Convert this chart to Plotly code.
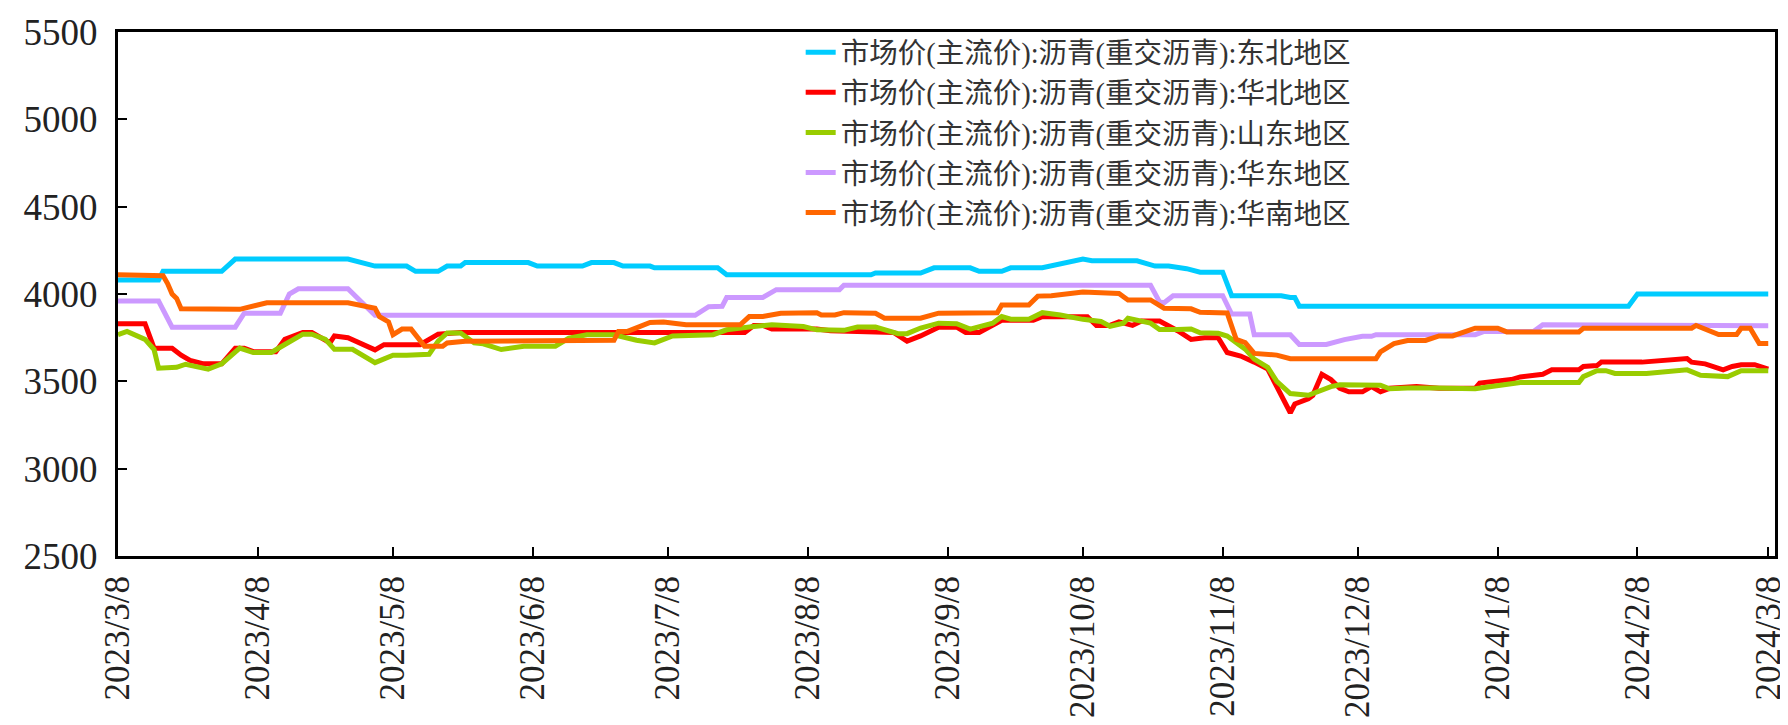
import pandas as pd
import plotly.graph_objects as go

START = "2023-03-08"

names = [
    "市场价(主流价):沥青(重交沥青):东北地区",
    "市场价(主流价):沥青(重交沥青):华北地区",
    "市场价(主流价):沥青(重交沥青):山东地区",
    "市场价(主流价):沥青(重交沥青):华东地区",
    "市场价(主流价):沥青(重交沥青):华南地区",
]
colors = ["#00CCFF", "#FF0000", "#99CC00", "#CC99FF", "#FF6600"]

# day offsets from START and values
db_days = [0, 9, 10, 23, 26, 51, 57, 64, 66, 71, 73, 76, 77, 91, 93, 103, 105, 110, 112, 118, 119, 133, 135, 167, 168, 178, 181, 189, 191, 196, 198, 205, 214, 216, 226, 230, 233, 237, 240, 245, 247, 258, 260, 261, 262, 335, 337, 366]
db_vals = [4080, 4080, 4130, 4130, 4200, 4200, 4160, 4160, 4130, 4130, 4160, 4160, 4180, 4180, 4160, 4160, 4180, 4180, 4160, 4160, 4150, 4150, 4110, 4110, 4120, 4120, 4150, 4150, 4130, 4130, 4150, 4150, 4200, 4190, 4190, 4160, 4160, 4145, 4125, 4125, 3990, 3990, 3980, 3980, 3930, 3930, 4000, 4000]

hb_days = [0, 6, 8, 12, 14, 16, 19, 23, 26, 28, 30, 35, 37, 41, 43, 45, 47, 48, 51, 57, 59, 67, 71, 76, 139, 141, 143, 145, 155, 158, 168, 172, 175, 178, 182, 186, 188, 191, 196, 203, 205, 215, 217, 220, 222, 225, 227, 231, 235, 238, 241, 244, 246, 249, 252, 255, 257, 260, 261, 264, 265, 267, 269, 271, 273, 276, 278, 280, 282, 288, 293, 301, 302, 307, 309, 311, 316, 318, 324, 325, 328, 329, 338, 348, 349, 352, 354, 356, 358, 360, 363, 366]
hb_vals = [3830, 3830, 3690, 3690, 3650, 3620, 3600, 3600, 3690, 3690, 3670, 3670, 3740, 3780, 3780, 3750, 3720, 3760, 3750, 3680, 3710, 3710, 3770, 3780, 3780, 3820, 3820, 3800, 3800, 3790, 3785, 3780, 3730, 3760, 3810, 3810, 3780, 3780, 3850, 3850, 3870, 3870, 3820, 3820, 3840, 3820, 3845, 3845, 3790, 3740, 3750, 3750, 3665, 3645, 3610, 3570, 3470, 3320, 3370, 3400, 3420, 3540, 3510, 3460, 3440, 3440, 3470, 3440, 3460, 3470, 3460, 3460, 3490, 3500, 3510, 3525, 3540, 3566, 3566, 3585, 3590, 3610, 3610, 3630, 3610, 3600, 3580, 3566, 3585, 3595, 3595, 3570]

sd_days = [0, 2, 6, 8, 9, 13, 15, 20, 23, 27, 30, 34, 37, 41, 43, 46, 48, 52, 57, 59, 61, 64, 69, 71, 73, 76, 79, 81, 85, 90, 97, 100, 104, 110, 115, 119, 123, 132, 135, 141, 145, 152, 155, 161, 164, 168, 171, 173, 175, 178, 182, 186, 189, 194, 196, 198, 202, 205, 209, 214, 218, 220, 223, 224, 229, 231, 235, 238, 240, 244, 246, 248, 250, 252, 255, 257, 260, 264, 266, 269, 271, 280, 282, 286, 292, 301, 303, 310, 311, 324, 325, 328, 330, 332, 339, 348, 351, 357, 360, 366]
sd_vals = [3767, 3786, 3740, 3682, 3575, 3580, 3598, 3570, 3600, 3690, 3665, 3665, 3711, 3770, 3770, 3740, 3683, 3683, 3607, 3626, 3650, 3650, 3655, 3730, 3777, 3777, 3720, 3715, 3682, 3701, 3701, 3748, 3767, 3767, 3735, 3720, 3760, 3767, 3795, 3814, 3824, 3814, 3795, 3792, 3811, 3811, 3786, 3773, 3773, 3805, 3833, 3830, 3799, 3833, 3871, 3856, 3856, 3893, 3880, 3855, 3843, 3815, 3833, 3861, 3833, 3797, 3797, 3800, 3778, 3775, 3759, 3720, 3684, 3627, 3580, 3500, 3430, 3420, 3440, 3470, 3480, 3478, 3457, 3462, 3462, 3457, 3465, 3488, 3493, 3493, 3527, 3561, 3561, 3545, 3545, 3566, 3535, 3527, 3561, 3561]

hd_days = [0, 9, 12, 26, 28, 36, 38, 40, 51, 54, 57, 128, 131, 134, 135, 143, 146, 160, 161, 229, 231, 232, 234, 245, 247, 251, 252, 260, 262, 268, 272, 276, 278, 279, 301, 303, 314, 316, 356, 357, 366]
hd_vals = [3960, 3960, 3810, 3810, 3890, 3890, 4000, 4030, 4030, 3955, 3878, 3878, 3927, 3930, 3980, 3980, 4025, 4025, 4050, 4050, 3955, 3950, 3990, 3990, 3885, 3885, 3767, 3767, 3711, 3711, 3739, 3758, 3758, 3767, 3767, 3786, 3786, 3824, 3824, 3818, 3818]

hn_days = [0, 9, 10, 11, 12, 13, 14, 27, 30, 33, 51, 54, 57, 58, 60, 61, 63, 65, 68, 72, 73, 77, 110, 111, 113, 118, 121, 126, 138, 140, 143, 147, 155, 156, 159, 161, 168, 170, 178, 182, 195, 196, 202, 204, 207, 214, 222, 224, 229, 232, 238, 240, 246, 248, 250, 252, 257, 260, 279, 280, 283, 286, 290, 293, 296, 301, 306, 308, 324, 325, 349, 350, 352, 355, 359, 360, 362, 364, 366]
hn_vals = [4110, 4110, 4105, 4060, 4000, 3975, 3915, 3912, 3930, 3950, 3950, 3937, 3918, 3870, 3840, 3767, 3799, 3799, 3701, 3701, 3720, 3730, 3735, 3786, 3786, 3837, 3840, 3824, 3824, 3871, 3871, 3890, 3893, 3880, 3880, 3893, 3890, 3861, 3861, 3890, 3893, 3937, 3937, 3988, 3990, 4012, 4003, 3966, 3966, 3919, 3915, 3895, 3891, 3740, 3721, 3660, 3650, 3630, 3630, 3669, 3716, 3734, 3734, 3760, 3760, 3804, 3804, 3783, 3783, 3804, 3804, 3820, 3799, 3768, 3768, 3804, 3804, 3716, 3716]

tick_dates = ["2023-03-08", "2023-04-08", "2023-05-08", "2023-06-08", "2023-07-08", "2023-08-08",
              "2023-09-08", "2023-10-08", "2023-11-08", "2023-12-08", "2024-01-08", "2024-02-08", "2024-03-08"]
tick_labels = ["2023/3/8", "2023/4/8", "2023/5/8", "2023/6/8", "2023/7/8", "2023/8/8",
               "2023/9/8", "2023/10/8", "2023/11/8", "2023/12/8", "2024/1/8", "2024/2/8", "2024/3/8"]

series_days = [db_days, hb_days, sd_days, hd_days, hn_days]
series_vals = [db_vals, hb_vals, sd_vals, hd_vals, hn_vals]

start = pd.Timestamp(START)
fig = go.Figure()
for name, color, days, vals in zip(names, colors, series_days, series_vals):
    x = start + pd.to_timedelta(days, unit="D")
    fig.add_trace(go.Scatter(x=x, y=vals, mode="lines", name=name,
                             line=dict(color=color, width=5)))

serif = "Liberation Serif, DejaVu Serif, serif"
fig.update_layout(
    width=1788, height=725,
    margin=dict(l=110, r=21, t=24, b=177, autoexpand=False),
    plot_bgcolor="white", paper_bgcolor="white",
    showlegend=True,
    legend=dict(x=0.412, y=1.009, xanchor="left", yanchor="top",
                bgcolor="rgba(0,0,0,0)",
                font=dict(family="Liberation Serif, Noto Sans CJK SC", size=28.5, color="#333333"),
                tracegroupgap=0),
    xaxis=dict(type="date", range=[START, "2024-03-09 12:00"],
               tickvals=tick_dates, ticktext=tick_labels, tickangle=-90,
               ticks="inside", ticklen=9, tickwidth=1.5, tickcolor="black",
               showline=True, linecolor="black", linewidth=3, mirror=True,
               showgrid=False, zeroline=False,
               tickfont=dict(family=serif, size=35, color="#222222"),
               ticklabelstandoff=3, ticklabeloverflow="allow", automargin=False),
    yaxis=dict(range=[2500, 5500], dtick=500, tick0=2500,
               ticks="inside", ticklen=9, tickwidth=1.5, tickcolor="black",
               showline=True, linecolor="black", linewidth=3, mirror=True,
               showgrid=False, zeroline=False,
               tickfont=dict(family=serif, size=37, color="#222222"),
               ticklabelstandoff=10, ticklabeloverflow="allow", automargin=False),
)

fig.write_html("out.html")
